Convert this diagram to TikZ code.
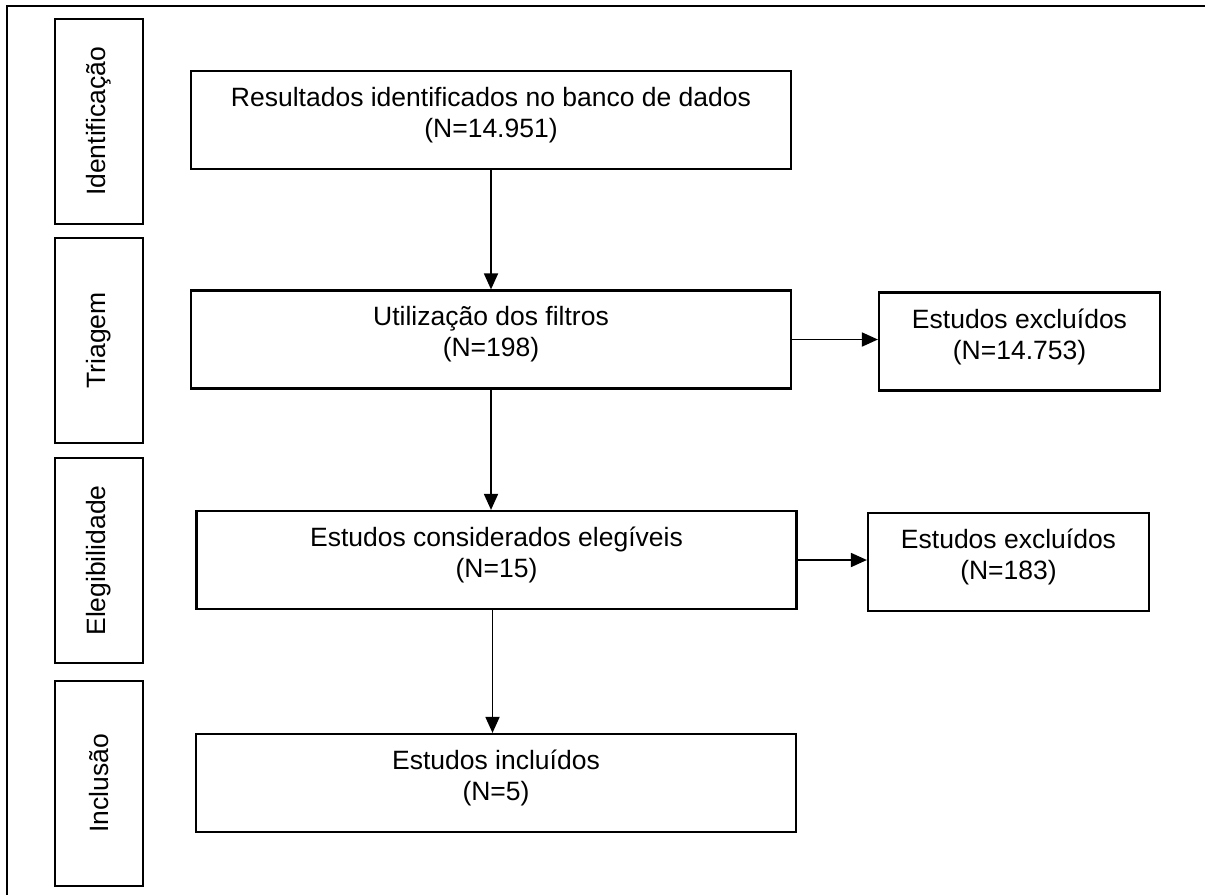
\documentclass[tikz,border=0pt]{standalone}
\usepackage{fontspec}
\setmainfont{Liberation Sans}
\usetikzlibrary{arrows.meta,calc}
\begin{document}
\begin{tikzpicture}[x=1pt,y=-1pt,
  every node/.style={font=\fontsize{26.5}{31}\selectfont},
  box/.style={draw,line width=2.2pt,inner sep=0pt},
  txt/.style={align=center,inner sep=0pt},
  mainbox/.style={box,minimum width=600pt,minimum height=98pt},
  exclbox/.style={box,minimum width=281pt,minimum height=98pt},
  sidebox/.style={box,minimum width=88pt,minimum height=205pt},
  sidetext/.style={rotate=90,inner sep=0pt},
  arr/.style={line width=1.8pt,-{Triangle[length=16pt,width=14pt]}}]
\useasboundingbox (0,0) rectangle (1205,895);
\coordinate (fa) at (7,895);
\coordinate (fb) at (7,6);
\coordinate (fc) at (1205,6);
\draw[line width=2.2pt] (fa) -- (fb) -- (fc);
% side boxes
\node[sidebox] (sid) at (99,121.5) {};
\node[sidetext] (tid) at (sid.center) {Identificação};
\node[sidebox] (str) at (99,340.5) {};
\node[sidetext] (ttr) at (str.center) {Triagem};
\node[sidebox] (sel) at (99,560.5) {};
\node[sidetext] (tel) at (sel.center) {Elegibilidade};
\node[sidebox] (sin) at (99,783.5) {};
\node[sidetext] (tin) at (sin.center) {Inclusão};
% main boxes
\node[mainbox] (b1) at (491,120) {};
\node[txt] (t1) at ($(b1.center)+(0,-5)$) {Resultados identificados no banco de dados\\(N=14.951)};
\node[mainbox] (b2) at (491,339.5) {};
\node[txt] (t2) at ($(b2.center)+(0,-5)$) {Utilização dos filtros\\(N=198)};
\node[exclbox] (e1) at (1019.5,341.5) {};
\node[txt] (te1) at ($(e1.center)+(0,-5)$) {Estudos excluídos\\(N=14.753)};
\node[mainbox] (b3) at (496.5,560) {};
\node[txt] (t3) at ($(b3.center)+(0,-5)$) {Estudos considerados elegíveis\\(N=15)};
\node[exclbox] (e2) at (1008.5,562) {};
\node[txt] (te2) at ($(e2.center)+(0,-5)$) {Estudos excluídos\\(N=183)};
\node[mainbox] (b4) at (496,783) {};
\node[txt] (t4) at ($(b4.center)+(0,-5)$) {Estudos incluídos\\(N=5)};
% arrows
\draw[arr] (b1.south) -- (b2.north);
\draw[arr] (b2.south) -- (b2.south |- b3.north);
\draw[arr] ($(b3.south)+(-4,0)$) -- ($(b3.south |- b4.north)+(-4,0)$);
\draw[arr] (b2.east) -- (b2.east -| e1.west);
\draw[arr] (b3.east) -- (b3.east -| e2.west);
\end{tikzpicture}
\end{document}
